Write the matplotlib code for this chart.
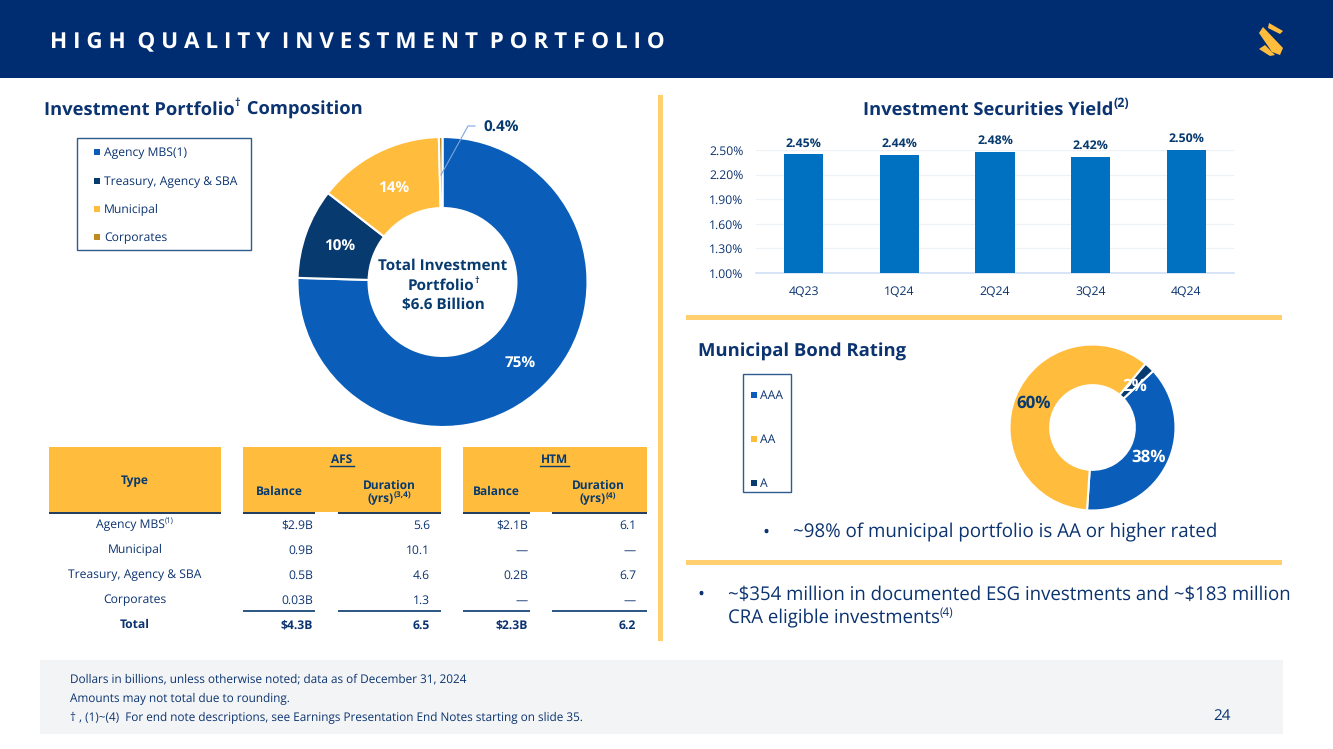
import matplotlib
matplotlib.use('Agg')
import matplotlib.pyplot as plt
from matplotlib.patches import Rectangle, Polygon

plt.rcParams['font.family'] = ['Open Sans', 'DejaVu Sans']
plt.rcParams['text.hinting'] = 'no_hinting'

NAVY = '#002D72'
TEXT = '#0B3370'
BLUE = '#0A5EB9'
DARK = '#073A6E'
GOLD = '#FFBC3D'
RULE = '#FFCF70'

portfolio_labels = ['Agency MBS(1)', 'Treasury, Agency & SBA', 'Municipal', 'Corporates']
portfolio_legend_colors = [BLUE, DARK, GOLD, '#BF8A1E']
# drawing order round the ring, clockwise from 12 o'clock
portfolio_order = ['75%', '10%', '14%', '0.4%']
portfolio_values = [75, 10, 14, 0.4]

quarters = ['4Q23', '1Q24', '2Q24', '3Q24', '4Q24']
yields = [2.45, 2.44, 2.48, 2.42, 2.50]
yield_ticks = [1.00, 1.30, 1.60, 1.90, 2.20, 2.50]

rating_labels = ['AAA', 'AA', 'A']
rating_values = [38, 60, 2]

table_types = ['Agency MBS', 'Municipal', 'Treasury, Agency & SBA', 'Corporates', 'Total']
afs_balance = ['$2.9B', '0.9B', '0.5B', '0.03B', '$4.3B']
afs_duration = ['5.6', '10.1', '4.6', '1.3', '6.5']
htm_balance = ['$2.1B', '—', '0.2B', '—', '$2.3B']
htm_duration = ['6.1', '—', '6.7', '—', '6.2']

W, H = 1333, 749
fig = plt.figure(figsize=(W / 100, H / 100), dpi=100, facecolor='white')


def px_axes(x0, y0, x1, y1, **kw):
    # axes placed by pixel box, y measured from the top of the slide
    return fig.add_axes([x0 / W, 1 - y1 / H, (x1 - x0) / W, (y1 - y0) / H], **kw)


bg = px_axes(0, 0, W, H, zorder=0)
fg = px_axes(0, 0, W, H, zorder=10)
for a in (bg, fg):
    a.set_xlim(0, W)
    a.set_ylim(H, 0)
    a.axis('off')


def box(x0, y0, x1, y1, fc, ec='none', lw=0, zorder=1):
    bg.add_patch(Rectangle((x0, y0), x1 - x0, y1 - y0, fc=fc, ec=ec, lw=lw, zorder=zorder))


def txt(x, y, s, size=8.5, color=TEXT, weight='normal', ha='left', **kw):
    # baseline placement keeps rows level whatever letters they hold
    return fg.text(x, y + size * 0.5, s, fontsize=size, color=color, fontweight=weight, ha=ha, va='baseline',
                   parse_math=False, **kw)


def with_sup(x, y, s, sup, size, sup_size=None, color=TEXT, weight='normal', ha='left', tail=None):
    # main text followed by a raised small note and optionally more text
    sup_size = sup_size or size * 0.6
    r = fig.canvas.get_renderer()
    parts = [(s, size, 0), (sup, sup_size, -size * 0.42)]
    if tail:
        parts.append((tail, size, 0))
    items = [txt(0, y + dy, p, size=sz, color=color, weight=weight) for p, sz, dy in parts]
    widths = [t.get_window_extent(r).width for t in items]
    # trailing spaces are not measured well, so add their width by hand
    if tail and tail.startswith(' '):
        widths[1] += size * 0.1
    start = x - sum(widths) / 2 if ha == 'center' else x
    for t, w in zip(items, widths):
        t.set_x(start)
        start += w


# header band, footer, separators
box(0, 0, W, 78, NAVY)
txt(50, 40, 'H I G H  Q U A L I T Y  I N V E S T M E N T  P O R T F O L I O', size=16.2, color='white', weight='bold')
bg.add_patch(Polygon([(1269, 23), (1283, 31), (1280, 34), (1268, 28)], fc=GOLD, zorder=3))
bg.add_patch(Polygon([(1259, 33), (1263, 27), (1283, 48), (1280, 55), (1272, 52)], fc=GOLD, zorder=3))
bg.add_patch(Polygon([(1259, 49), (1265, 45), (1275, 55), (1270, 56)], fc=GOLD, zorder=3))
box(40, 660, 1283, 734, '#F3F4F5')
box(658, 95, 663, 641, RULE)
box(686, 315, 1282, 320, RULE)
box(686, 560, 1282, 565, RULE)

# main donut
ax1 = px_axes(442.5 - 145, 282 - 145, 442.5 + 145, 282 + 145)
ax1.pie(portfolio_values, colors=[BLUE, DARK, GOLD, '#BF8A1E'], startangle=90, counterclock=False,
        radius=1.0, wedgeprops=dict(width=0.49, edgecolor='white', linewidth=1.5))
ax1.set_xlim(-1, 1)
ax1.set_ylim(-1, 1)
txt(520, 362, portfolio_order[0], size=11, color='white', weight='bold', ha='center')
txt(340, 245, portfolio_order[1], size=11, color='white', weight='bold', ha='center')
txt(394, 186, portfolio_order[2], size=11, color='white', weight='bold', ha='center')
txt(501, 126, portfolio_order[3], size=11, color=DARK, weight='bold', ha='center')
fg.plot([441, 468, 475], [175, 126, 126], color='#7FA6DC', lw=0.8)
txt(443, 264, 'Total Investment', size=11, color=DARK, weight='bold', ha='center')
with_sup(443, 284, 'Portfolio', '†', 11, color=DARK, weight='bold', ha='center')
txt(443, 304, '$6.6 Billion', size=11, color=DARK, weight='bold', ha='center')
with_sup(44, 108, 'Investment Portfolio', '†', 13.2, weight='bold', tail=' Composition')

# legend of the main donut
box(77, 138, 251, 250, 'white', ec='#2F5C8F', lw=1, zorder=2)
for lab, col, y in zip(portfolio_labels, portfolio_legend_colors, [152, 181, 209, 237]):
    box(94, y - 3, 100, y + 3, col, zorder=3)
    txt(104, y, lab, size=8.7, color=TEXT)

# bar chart
ax2 = px_axes(756, 150, 1234, 273)
ax2.bar(quarters, yields, width=0.41, bottom=0, color='#0070C0', zorder=3)
ax2.set_xlim(-0.5, 4.5)
ax2.set_ylim(1.0, 2.5)
ax2.set_yticks(yield_ticks, [f'{t:.2f}%' for t in yield_ticks])
ax2.grid(True, axis='y', color='#EEF1F6', lw=0.9, zorder=0)
ax2.tick_params(length=0, labelsize=8.8, labelcolor=TEXT, pad=9)
ax2.tick_params(axis='x', pad=9)
for s in ['top', 'right', 'left']:
    ax2.spines[s].set_visible(False)
ax2.spines['bottom'].set_color('#CFE0F5')
ax2.spines['bottom'].set_linewidth(1.2)
ax2.patch.set_alpha(0)
for i, v in enumerate(yields):
    ax2.annotate(f'{v:.2f}%', (i, v), xytext=(0, 3.5), textcoords='offset points', ha='center', va='bottom',
                 fontsize=8.9, color=DARK, fontweight='bold', annotation_clip=False)
with_sup(996, 108, 'Investment Securities Yield', '(2)', 13.2, sup_size=9, weight='bold', ha='center')

# municipal donut
txt(698, 350, 'Municipal Bond Rating', size=13.3, weight='bold')
ax3 = px_axes(1092.5 - 83, 427.5 - 83, 1092.5 + 83, 427.5 + 83)
ax3.pie(rating_values, colors=[BLUE, GOLD, DARK], startangle=43, counterclock=False, radius=1.0,
        wedgeprops=dict(width=0.49, edgecolor='white', linewidth=1.5))
ax3.set_xlim(-1, 1)
ax3.set_ylim(-1, 1)
txt(1149, 456, f'{rating_values[0]}%', size=12.2, color='white', weight='bold', ha='center')
txt(1034, 402, f'{rating_values[1]}%', size=12.2, color=DARK, weight='bold', ha='center')
txt(1135, 385, f'{rating_values[2]}%', size=12.2, color='white', weight='bold', ha='center')
box(743, 374, 791, 492, 'white', ec='#2F5C8F', lw=1, zorder=2)
for lab, col, y in zip(rating_labels, [BLUE, GOLD, DARK], [395, 439, 483]):
    box(751, y - 3, 757, y + 3, col, zorder=3)
    txt(760, y, lab, size=8.7, color=TEXT)

# bullets
txt(762, 531, '•', size=13.5)
txt(793, 531, '~98% of municipal portfolio is AA or higher rated', size=13.5)
txt(697, 593, '•', size=13.4)
txt(728, 593, '~$354 million in documented ESG investments and ~$183 million', size=13.4)
with_sup(728, 617, 'CRA eligible investments', '(4)', 13.4, sup_size=8.5)

# table head
box(49, 447, 221, 512, GOLD)
box(243, 447, 441, 512, GOLD)
box(463, 447, 647, 512, GOLD)
txt(135, 480, 'Type', size=8.6, color=DARK, weight='bold', ha='center')
txt(342, 459, 'AFS', size=8.6, color=DARK, weight='bold', ha='center')
fg.plot([330, 354], [466, 466], color=DARK, lw=1)
txt(555, 459, 'HTM', size=8.6, color=DARK, weight='bold', ha='center')
fg.plot([540, 569], [466, 466], color=DARK, lw=1)
txt(279, 491, 'Balance', size=8.6, color=DARK, weight='bold', ha='center')
txt(496, 491, 'Balance', size=8.6, color=DARK, weight='bold', ha='center')
txt(389, 485, 'Duration', size=8.6, color=DARK, weight='bold', ha='center')
txt(598, 485, 'Duration', size=8.6, color=DARK, weight='bold', ha='center')
with_sup(389, 498, '(yrs)', '(3,4)', 8.6, sup_size=6, color=DARK, weight='bold', ha='center')
with_sup(598, 498, '(yrs)', '(4)', 8.6, sup_size=6, color=DARK, weight='bold', ha='center')

# table rows
row_y = [524, 549, 574, 599, 624]
for i, y in enumerate(row_y):
    w = 'bold' if i == 4 else 'normal'
    if i == 0:
        with_sup(135, y, table_types[i], '(1)', 8.75, sup_size=5.5, ha='center')
    else:
        txt(135, y, table_types[i], size=8.75, weight=w, ha='center')
    txt(313, y, afs_balance[i], size=8.75, weight=w, ha='right')
    txt(430, y, afs_duration[i], size=8.75, weight=w, ha='right')
    txt(528, y, htm_balance[i], size=8.75, weight=w, ha='right')
    txt(636, y, htm_duration[i], size=8.75, weight=w, ha='right')
for x0, x1 in [(49, 221), (243, 315), (338, 441), (463, 530), (552, 647)]:
    fg.plot([x0, x1], [512.5, 512.5], color='#1F3A5F', lw=1.4, solid_capstyle='butt')
for x0, x1 in [(243, 315), (338, 441), (463, 530), (552, 647)]:
    fg.plot([x0, x1], [611, 611], color=DARK, lw=1.2, solid_capstyle='butt')

# footer
txt(70, 678, 'Dollars in billions, unless otherwise noted; data as of December 31, 2024', size=8.5)
txt(70, 698, 'Amounts may not total due to rounding.', size=8.5)
txt(70, 717, '† , (1)~(4)  For end note descriptions, see Earnings Presentation End Notes starting on slide 35.', size=8.5)
txt(1222, 714, '24', size=11, ha='center')

fig.savefig('out.png', dpi=100, facecolor='white')
